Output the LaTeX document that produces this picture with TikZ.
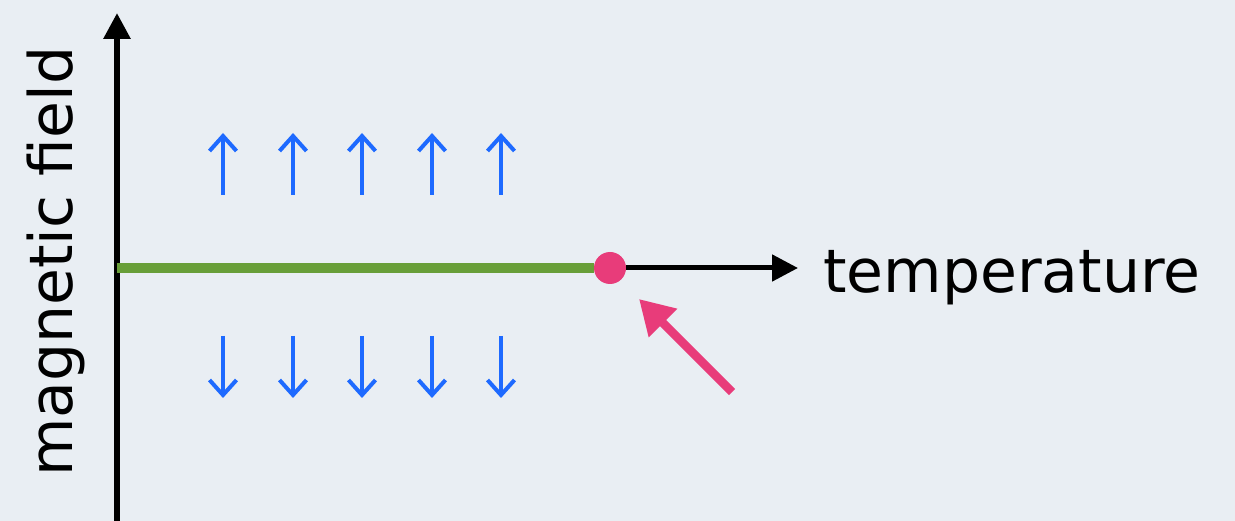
\documentclass[tikz,border=0pt]{standalone}
\usepackage{fontspec}
\setmainfont{DejaVu Sans}
\usetikzlibrary{arrows.meta}
\definecolor{paper}{RGB}{233,238,243}
\definecolor{spinblue}{RGB}{30,106,255}
\definecolor{critpink}{RGB}{232,60,122}
\definecolor{linegreen}{RGB}{104,158,56}
\tikzset{
  axisline/.style={draw=black, line width=6pt, -{Triangle[length=26pt,width=26pt]}},
  haxis/.style={draw=black, line width=5pt, -{Triangle[length=26pt,width=26pt]}},
  spinarrow/.style={draw=spinblue, line width=4pt, -{Straight Barb[length=15pt,width=27pt,line width=4pt]}},
  pointer/.style={draw=critpink, line width=8.5pt, -{Triangle[length=34pt,width=38pt]}},
  label/.style={font=\fontsize{60}{60}\selectfont, inner sep=0pt, text=black}
}
\begin{document}
\begin{tikzpicture}[x=1pt,y=-1pt]
\fill[paper] (0,0) rectangle (1235,521);
\useasboundingbox (0,0) rectangle (1235,521);
% axes
\coordinate (ybot) at (117,521);
\coordinate (ytop) at (117,13);
\coordinate (origin) at (117,268);
\coordinate (xtip) at (798,268);
\draw[axisline] (ybot) -- (ytop);
\node[circle, fill=critpink, minimum size=32pt, inner sep=0pt] (crit) at (610,268) {};
\draw[linegreen, line width=10pt] (origin) -- (crit.west);
\draw[haxis] (crit.east) -- (xtip);
\coordinate (ptail) at (732,392);
\coordinate (ptip) at (639,299);
\draw[pointer] (ptail) -- (ptip);
% labels
\node[label, anchor=base west] (temp) at (823,293) {temperature};
\node[label, anchor=base west, rotate=90] (field) at (72,477) {magnetic field};
% spins
\foreach \x/\n in {223/a,293/b,362/c,432/d,501/e}{
  \coordinate (u\n0) at (\x,195);
  \coordinate (u\n1) at (\x,133);
  \draw[spinarrow] (u\n0) -- (u\n1);
  \coordinate (d\n0) at (\x,336);
  \coordinate (d\n1) at (\x,398);
  \draw[spinarrow] (d\n0) -- (d\n1);
}
\end{tikzpicture}
\end{document}
